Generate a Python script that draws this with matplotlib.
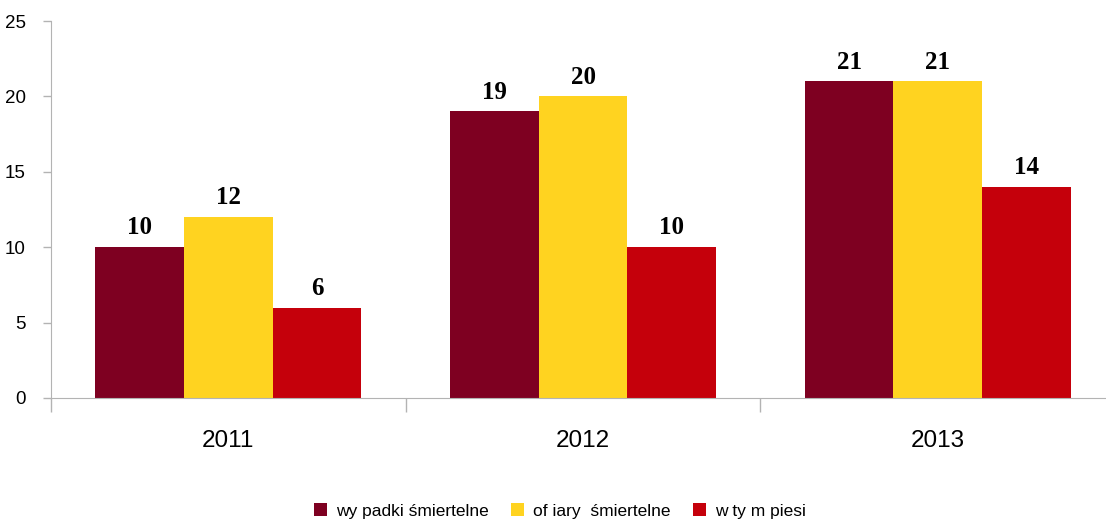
import numpy as np
import matplotlib.pyplot as plt

years = ['2011', '2012', '2013']
wypadki = [10, 19, 21]
ofiary = [12, 20, 21]
piesi = [6, 10, 14]
series_names = ['wy padki śmiertelne', 'of iary  śmiertelne', 'w ty m piesi']
colors = ['#7E0021', '#FFD320', '#C5000B']

fig = plt.figure(figsize=(11.06, 5.21), dpi=100)
ax = fig.add_axes([51 / 1106, 123 / 521, 1064 / 1106, 377 / 521])

x = np.arange(len(years))
w = 0.25
for i, (vals, name, c) in enumerate(zip([wypadki, ofiary, piesi], series_names, colors)):
    pos = x + (i - 1) * w
    ax.bar(pos, vals, width=w, color=c, label=name, zorder=2)
    for px, v in zip(pos, vals):
        ax.text(px, v + 0.85, str(v), ha='center', va='baseline',
                family='Liberation Serif', fontweight='bold', fontsize=18)

ax.set_xlim(-0.5, 2.5)
ax.set_ylim(0, 25)
ax.set_yticks([0, 5, 10, 15, 20, 25])
ax.set_xticks(x)
ax.set_xticklabels(years, family='Liberation Sans', fontsize=17.5)
ax.set_xticks([-0.5, 0.5, 1.5, 2.5], minor=True)
ax.tick_params(axis='x', which='major', length=0, pad=23)
ax.tick_params(axis='x', which='minor', length=10, color='#b3b3b3', width=1)
ax.tick_params(axis='y', length=6, color='#b3b3b3', width=1, pad=12)
for lbl in ax.get_yticklabels():
    lbl.set_family('Liberation Sans')
    lbl.set_fontsize(13.5)

for s in ['top', 'right']:
    ax.spines[s].set_visible(False)
for s in ['left', 'bottom']:
    ax.spines[s].set_color('#b3b3b3')
ax.spines['left'].set_bounds(0, 25)

fig.legend(loc='center', bbox_to_anchor=(560 / 1106, 1 - 511 / 521), ncol=3, frameon=False,
           prop={'family': 'Liberation Sans', 'size': 12.5}, handlelength=0.75, handleheight=0.75,
           handletextpad=0.5, columnspacing=1.3)

fig.savefig('out.png', dpi=100)
